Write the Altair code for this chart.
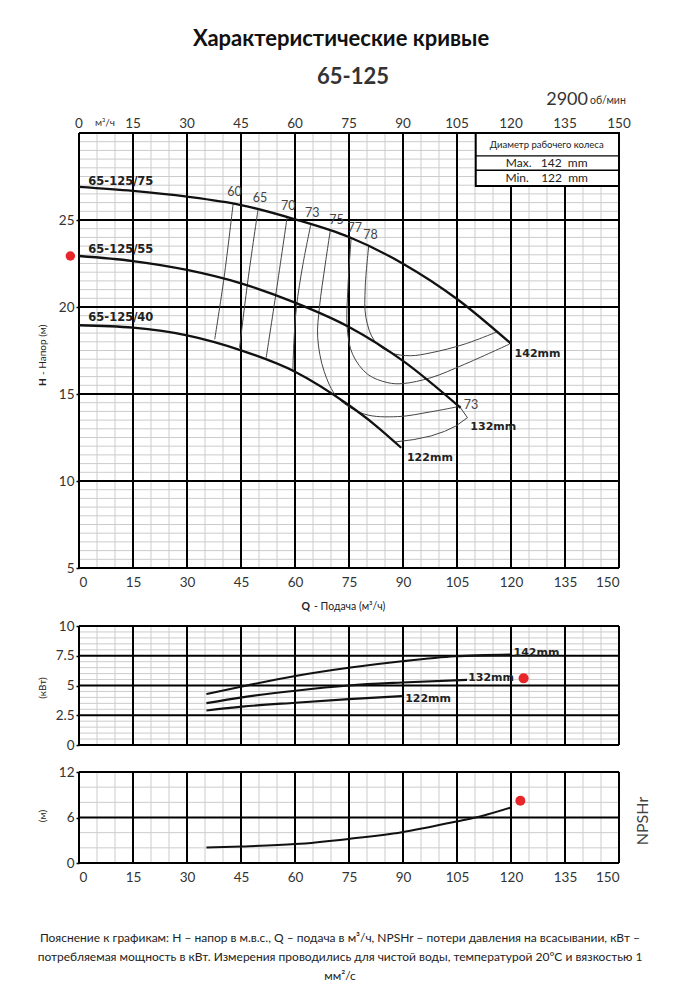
import altair as alt
import pandas as pd

FONT = "Lato"
W, HM, HP, HN = 540, 435, 119, 91
NB = "\u00a0"

# ---------------- tick / grid values ----------------
Q_MAJOR = [0, 15, 30, 45, 60, 75, 90, 105, 120, 135, 150]
Q_MINOR = [q for q in range(0, 151, 5) if q % 15]
H_MAJOR = [5, 10, 15, 20, 25, 30]
H_LABELS = [5, 10, 15, 20, 25]
H_MINOR = [5 + 0.5 * i for i in range(51) if i % 10]
P_MAJOR = [0, 2.5, 5, 7.5, 10]
P_MINOR = [0.5 * i for i in range(21) if i % 5]
N_MAJOR = [0, 6, 12]
N_MINOR = [2, 4, 8, 10]

# ---------------- head curves H(Q) ----------------
HEAD_142_Q = [0, 15, 30, 45, 60, 75, 90, 105, 120]
HEAD_142_H = [26.9, 26.67, 26.34, 25.86, 25.04, 24.02, 22.49, 20.46, 17.89]
HEAD_132_Q = [0, 15, 30, 45, 60, 75, 90, 106]
HEAD_132_H = [22.93, 22.64, 22.13, 21.36, 20.25, 18.85, 16.9, 14.2]
HEAD_122_Q = [0, 15, 30, 45, 60, 75, 82, 89.5]
HEAD_122_H = [18.95, 18.81, 18.37, 17.51, 16.28, 14.35, 13.26, 11.91]

# ---------------- iso-efficiency curves ----------------
EFF_60_Q = [42.8, 40.3, 37.7]
EFF_60_H = [25.9, 21.7, 18.14]
EFF_65_Q = [49.7, 46.9, 44.6]
EFF_65_H = [25.56, 21.5, 17.66]
EFF_70_Q = [57.8, 54.8, 52.0]
EFF_70_H = [25.13, 20.9, 17.09]
EFF_73_Q = [64.4, 62.2, 60.4, 59.7, 59.4]
EFF_73_H = [24.75, 22.45, 20.0, 18.0, 16.3]
EFF_75_Q = [69.8, 68.4, 66.8, 66.3, 68.1, 71.8, 79.2, 88.5, 97.8, 106.0]
EFF_75_H = [24.4, 22.45, 20.0, 18.25, 16.3, 14.8, 13.85, 13.7, 13.98, 14.3]
EFF_77_Q = [75.6, 74.7, 74.5, 76.0, 80.2, 85.8, 90.0, 97.8, 107.0, 119.5]
EFF_77_H = [23.98, 21.1, 18.8, 17.28, 16.13, 15.65, 15.6, 15.94, 16.7, 17.86]
EFF_78_Q = [80.5, 79.5, 79.7, 82.1, 86.7, 92.0, 97.8, 107.0, 116.2]
EFF_78_H = [23.55, 21.1, 19.4, 18.05, 17.37, 17.2, 17.37, 17.86, 18.58]
EDGE_Q = [88.0, 93.0, 97.8, 101.5, 104.7, 107.9, 106.0]
EDGE_H = [12.25, 12.38, 12.59, 12.85, 13.16, 13.64, 14.2]

# ---------------- power P(Q), kW ----------------
PWR_142_Q = [35.4, 45.3, 60.1, 74.9, 89.7, 104.5, 119.8]
PWR_142_P = [4.28, 4.92, 5.8, 6.49, 7.04, 7.46, 7.6]
PWR_132_Q = [35.4, 45.3, 60.1, 74.9, 89.7, 107.8]
PWR_132_P = [3.51, 4.0, 4.56, 5.0, 5.25, 5.47]
PWR_122_Q = [35.4, 45.3, 60.1, 74.9, 89.7]
PWR_122_P = [2.9, 3.22, 3.55, 3.85, 4.1]

# ---------------- NPSHr(Q), m ----------------
NPSH_Q = [35.4, 45.3, 60.1, 74.9, 89.7, 104.5, 112.2, 119.8]
NPSH_N = [2.05, 2.18, 2.49, 3.18, 4.06, 5.45, 6.24, 7.29]

# ---------------- labels ----------------
CURVE_LABELS = ["65-125/75", "65-125/55", "65-125/40"]
CURVE_LABEL_Q = [2.6, 2.6, 2.6]
CURVE_LABEL_H = [27.18, 23.3, 19.37]
EFF_LABELS = ["60", "65", "70", "73", "75", "77", "78", "73"]
EFF_LABEL_Q = [43.2, 50.3, 58.1, 64.8, 71.5, 76.6, 81.0, 108.9]
EFF_LABEL_H = [26.6, 26.28, 25.8, 25.42, 25.02, 24.54, 24.14, 14.35]
DIAM_LABELS = ["142mm", "132mm", "122mm"]
DIAM_LABEL_Q = [121.0, 108.7, 91.1]
DIAM_LABEL_H = [17.3, 13.1, 11.3]
PWR_LABELS = ["142mm", "132mm", "122mm"]
PWR_LABEL_Q = [120.7, 108.1, 90.6]
PWR_LABEL_P = [7.75, 5.6, 3.87]
RED_MAIN = ([-2.4], [22.93])
RED_PWR = ([123.5], [5.6])
RED_NPSH = ([122.6], [8.2])

BOX_Q = [110.2]
BOX_Q2 = [150]
BOX_H = [30]
BOX_H2 = [26.95]
BOX_ROWS_H = [28.68, 27.86]
BOX_TEXT = ["Диаметр рабочего колеса",
            f"Max.{NB}{NB}{NB}142{NB}{NB}mm",
            f"Min.{NB}{NB}{NB}{NB}122{NB}{NB}mm"]
BOX_TEXT_H = [29.3, 28.27, 27.4]

FOOTER = [
    "Пояснение к графикам: H – напор в м.в.с., Q – подача в м³/ч, NPSHr – потери давления на всасывании, кВт –",
    "потребляемая мощность в кВт. Измерения проводились для чистой воды, температурой 20°C и вязкостью 1",
    "мм²/с",
]


def long(curves, vname):
    rows = []
    for name, (qs, vs) in curves.items():
        for i, (q, v) in enumerate(zip(qs, vs)):
            rows.append({"name": name, "i": i, "Q": q, vname: v})
    return pd.DataFrame(rows)


def txt(text, x, y, **style):
    base = dict(font=FONT, color="#222")
    base.update(style)
    return alt.Chart(pd.DataFrame({"t": [text]})).mark_text(**base).encode(
        x=alt.value(x), y=alt.value(y), text="t:N")


xs_main = alt.Scale(domain=[0, 150], nice=False, zero=False)
hs = alt.Scale(domain=[5, 30], nice=False, zero=False)
AXL = dict(labelFont=FONT, labelFontSize=13.5, labelColor="#333", title=None,
           grid=False, domain=False)
XAX_MAIN = alt.Axis(values=Q_MAJOR, ticks=False, labelPadding=7, format="d", **AXL)
YAX_MAIN = alt.Axis(values=H_LABELS, ticks=True, tickSize=3, tickColor="#000",
                    tickWidth=1.5, labelPadding=2, format="d", **AXL)


def XM():
    return alt.X("Q:Q", scale=xs_main, axis=XAX_MAIN)


def YM():
    return alt.Y("H:Q", scale=hs, axis=YAX_MAIN)


MINOR = dict(color="#cccccc", strokeWidth=1)
MAJOR = dict(color="#000000", strokeWidth=2)

main_layers = [
    alt.Chart(pd.DataFrame({"Q": Q_MINOR})).mark_rule(**MINOR).encode(x=XM()),
    alt.Chart(pd.DataFrame({"H": H_MINOR})).mark_rule(**MINOR).encode(y=YM()),
    alt.Chart(pd.DataFrame({"Q": Q_MAJOR})).mark_rule(**MAJOR).encode(x=XM()),
    alt.Chart(pd.DataFrame({"H": H_MAJOR})).mark_rule(**MAJOR).encode(y=YM()),
    # legend box
    alt.Chart(pd.DataFrame({"Q": BOX_Q, "Q2": BOX_Q2, "H": BOX_H, "H2": BOX_H2}))
    .mark_rect(fill="white", stroke="black", strokeWidth=2)
    .encode(x=XM(), x2="Q2:Q", y=YM(), y2="H2:Q"),
    alt.Chart(pd.DataFrame({"Q": BOX_Q * 2, "Q2": BOX_Q2 * 2, "H": BOX_ROWS_H}))
    .mark_rule(color="black", strokeWidth=1.3)
    .encode(x=XM(), x2="Q2:Q", y=YM()),
    alt.Chart(pd.DataFrame({"t": BOX_TEXT[:1], "Q": [129.9], "H": BOX_TEXT_H[:1]}))
    .mark_text(font=FONT, fontSize=9.5, color="#222")
    .encode(x=XM(), y=YM(), text="t:N"),
    alt.Chart(pd.DataFrame({"t": BOX_TEXT[1:], "Q": [129.9, 129.9], "H": BOX_TEXT_H[1:]}))
    .mark_text(font=FONT, fontSize=12, color="#222")
    .encode(x=XM(), y=YM(), text="t:N"),
    # efficiency curves
    alt.Chart(long({
        "60": (EFF_60_Q, EFF_60_H), "65": (EFF_65_Q, EFF_65_H),
        "70": (EFF_70_Q, EFF_70_H), "73": (EFF_73_Q, EFF_73_H),
        "75": (EFF_75_Q, EFF_75_H), "77": (EFF_77_Q, EFF_77_H),
        "78": (EFF_78_Q, EFF_78_H)}, "H"))
    .mark_line(color="#444", strokeWidth=1, interpolate="catmull-rom")
    .encode(x=XM(), y=YM(), detail="name:N", order="i:Q"),
    alt.Chart(long({"edge": (EDGE_Q, EDGE_H)}, "H"))
    .mark_line(color="#444", strokeWidth=1)
    .encode(x=XM(), y=YM(), detail="name:N", order="i:Q"),
    # head curves
    alt.Chart(long({"142": (HEAD_142_Q, HEAD_142_H), "132": (HEAD_132_Q, HEAD_132_H),
                    "122": (HEAD_122_Q, HEAD_122_H)}, "H"))
    .mark_line(color="#111", strokeWidth=2.3, interpolate="monotone")
    .encode(x=XM(), y=YM(), detail="name:N", order="i:Q"),
    # labels
    alt.Chart(pd.DataFrame({"t": CURVE_LABELS, "Q": CURVE_LABEL_Q, "H": CURVE_LABEL_H}))
    .mark_text(font="DejaVu Sans", fontWeight="bold", fontSize=11.5, align="left", color="#222")
    .encode(x=XM(), y=YM(), text="t:N"),
    alt.Chart(pd.DataFrame({"t": EFF_LABELS, "Q": EFF_LABEL_Q, "H": EFF_LABEL_H}))
    .mark_text(font=FONT, fontSize=12.5, color="#444")
    .encode(x=XM(), y=YM(), text="t:N"),
    alt.Chart(pd.DataFrame({"t": DIAM_LABELS, "Q": DIAM_LABEL_Q, "H": DIAM_LABEL_H}))
    .mark_text(font="DejaVu Sans", fontWeight="bold", fontSize=11, align="left", color="#222")
    .encode(x=XM(), y=YM(), text="t:N"),
    alt.Chart(pd.DataFrame({"Q": RED_MAIN[0], "H": RED_MAIN[1]}))
    .mark_circle(color="#e8262a", opacity=1, size=90)
    .encode(x=XM(), y=YM()),
    # top axis labels
    alt.Chart(pd.DataFrame({"t": [str(q) for q in Q_MAJOR], "Q": Q_MAJOR}))
    .mark_text(font=FONT, fontSize=13.5, color="#333")
    .encode(x=XM(), y=alt.value(-9), text="t:N"),
    alt.Chart(pd.DataFrame({"t": ["м³/ч"], "Q": [7.2]}))
    .mark_text(font=FONT, fontSize=10, color="#333")
    .encode(x=XM(), y=alt.value(-10), text="t:N"),
    # header
    txt("Характеристические кривые", 262, -94, fontSize=22, fontWeight="bold", color="#111"),
    txt("65-125", 274, -56, fontSize=22, fontWeight="bold", color="#333"),
    txt("2900", 509, -33, fontSize=18, align="right", color="#333"),
    txt("об/мин", 511, -32, fontSize=10.5, align="left", color="#333"),
    # axis titles
    txt("Q", 231, 474, fontSize=10.5, fontWeight="bold", align="right"),
    txt(f"-{NB}Подача (м³/ч)", 235, 474, fontSize=10.5, align="left"),
    txt("H", -36, 253, fontSize=10, fontWeight="bold", angle=270, align="left"),
    txt(f"-{NB}Напор (м)", -36, 242, fontSize=10, angle=270, align="left"),
]
main = alt.layer(*main_layers).properties(width=W, height=HM)

# ---------------- power panel ----------------
xs_p = alt.Scale(domain=[0, 150], nice=False, zero=False)
ps = alt.Scale(domain=[0, 10], nice=False, zero=False)
YAX_P = alt.Axis(values=P_MAJOR, ticks=True, tickSize=3, tickColor="#000",
                 tickWidth=1.5, labelPadding=2,
                 labelExpr="format(datum.value, '.1~f')", **AXL)


def XP():
    return alt.X("Q:Q", scale=xs_p, axis=None)


def YP():
    return alt.Y("P:Q", scale=ps, axis=YAX_P)


power = alt.layer(
    alt.Chart(pd.DataFrame({"Q": Q_MINOR})).mark_rule(**MINOR).encode(x=XP()),
    alt.Chart(pd.DataFrame({"P": P_MINOR})).mark_rule(**MINOR).encode(y=YP()),
    alt.Chart(pd.DataFrame({"Q": Q_MAJOR})).mark_rule(**MAJOR).encode(x=XP()),
    alt.Chart(pd.DataFrame({"P": P_MAJOR})).mark_rule(**MAJOR).encode(y=YP()),
    alt.Chart(long({"142": (PWR_142_Q, PWR_142_P), "132": (PWR_132_Q, PWR_132_P),
                    "122": (PWR_122_Q, PWR_122_P)}, "P"))
    .mark_line(color="#111", strokeWidth=2.2, interpolate="monotone")
    .encode(x=XP(), y=YP(), detail="name:N", order="i:Q"),
    alt.Chart(pd.DataFrame({"t": PWR_LABELS, "Q": PWR_LABEL_Q, "P": PWR_LABEL_P}))
    .mark_text(font="DejaVu Sans", fontWeight="bold", fontSize=11, align="left", color="#222")
    .encode(x=XP(), y=YP(), text="t:N"),
    alt.Chart(pd.DataFrame({"Q": RED_PWR[0], "P": RED_PWR[1]}))
    .mark_circle(color="#e8262a", opacity=1, size=100)
    .encode(x=XP(), y=YP()),
    txt("(кВт)", -36, 62, fontSize=10, angle=270),
).properties(width=W, height=HP)

# ---------------- NPSH panel ----------------
xs_n = alt.Scale(domain=[0, 150], nice=False, zero=False)
ns = alt.Scale(domain=[0, 12], nice=False, zero=False)
XAX_N = alt.Axis(values=Q_MAJOR, ticks=False, labelPadding=7, format="d", **AXL)
YAX_N = alt.Axis(values=N_MAJOR, ticks=True, tickSize=3, tickColor="#000",
                 tickWidth=1.5, labelPadding=2, format="d", **AXL)


def XN():
    return alt.X("Q:Q", scale=xs_n, axis=XAX_N)


def YN():
    return alt.Y("N:Q", scale=ns, axis=YAX_N)


npsh = alt.layer(
    alt.Chart(pd.DataFrame({"Q": Q_MINOR})).mark_rule(**MINOR).encode(x=XN()),
    alt.Chart(pd.DataFrame({"N": N_MINOR})).mark_rule(**MINOR).encode(y=YN()),
    alt.Chart(pd.DataFrame({"Q": Q_MAJOR})).mark_rule(**MAJOR).encode(x=XN()),
    alt.Chart(pd.DataFrame({"N": N_MAJOR})).mark_rule(**MAJOR).encode(y=YN()),
    alt.Chart(long({"npsh": (NPSH_Q, NPSH_N)}, "N"))
    .mark_line(color="#111", strokeWidth=2, interpolate="monotone")
    .encode(x=XN(), y=YN(), detail="name:N", order="i:Q"),
    alt.Chart(pd.DataFrame({"Q": RED_NPSH[0], "N": RED_NPSH[1]}))
    .mark_circle(color="#e8262a", opacity=1, size=100)
    .encode(x=XN(), y=YN()),
    txt("(м)", -36, 44, fontSize=10, angle=270),
    txt("NPSHr", 564, 49, fontSize=16, angle=270, color="#444"),
    txt(FOOTER[0], 261, 166, fontSize=12),
    txt(FOOTER[1], 261, 185, fontSize=12),
    txt(FOOTER[2], 261, 204, fontSize=12),
).properties(width=W, height=HN)

lower = alt.vconcat(power, npsh, spacing=27, bounds="flush")
chart = alt.vconcat(main, lower, spacing=58, bounds="flush").properties(
    padding={"left": 29, "top": 20, "right": 5, "bottom": 5}
).configure_view(stroke=None)

chart.save("out.html", embed_options={"renderer": "svg", "actions": False})
